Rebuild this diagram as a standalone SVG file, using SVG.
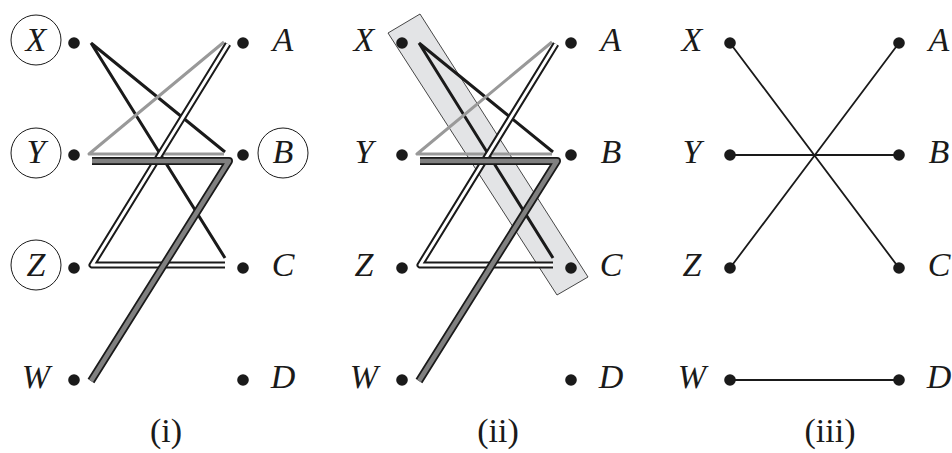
<svg xmlns="http://www.w3.org/2000/svg" width="952" height="453" viewBox="0 0 952 453">
<style>
.lbl{font-style:italic;font-size:34px;text-anchor:middle;fill:#1a1a1a}
.cap{font-size:34px;text-anchor:middle;fill:#1a1a1a}
.dot{fill:#1a1a1a}
.ring{fill:none;stroke:#1a1a1a;stroke-width:1}
.blk{fill:none;stroke:#1a1a1a;stroke-width:3;stroke-linejoin:round}
.gry{fill:none;stroke:#999;stroke-width:3;stroke-linejoin:round}
.dblo{fill:none;stroke:#1a1a1a;stroke-width:7;stroke-linejoin:round}
.dbli{fill:none;stroke:#fff;stroke-width:3;stroke-linejoin:round}
.gdo{fill:none;stroke:#1a1a1a;stroke-width:8;stroke-linejoin:round}
.gdi{fill:none;stroke:#808080;stroke-width:4.5;stroke-linejoin:round}
.thin{fill:none;stroke:#1a1a1a;stroke-width:1.8}
.hl{fill:#e3e4e6;stroke:#1a1a1a;stroke-width:0.8}
</style>

<g font-family="Liberation Serif, DejaVu Serif, serif">
<!-- Panel (i) -->
<g id="panel1">
  <g id="p1-connectors">
    <path class="blk" d="M91,43 L225,152 M91,43 L225,258"/>
    <path class="gry" d="M224,42 L89,154 L224,154"/>
    <path class="dblo" d="M228,44 L92,265 L225,265"/>
    <path class="dbli" d="M228,44 L92,265 L225,265"/>
    <path class="gdo" d="M92,161 L229,161 L91,381"/>
    <path class="gdi" d="M92,161 L229,161 L91,381"/>
  </g>
  <g id="p1-X"><circle class="dot" cx="74" cy="43" r="5.8"/><circle class="ring" cx="36" cy="40" r="25"/><text class="lbl" x="36" y="51">X</text></g>
  <g id="p1-Y"><circle class="dot" cx="74" cy="155" r="5.8"/><circle class="ring" cx="36" cy="153" r="25"/><text class="lbl" x="36" y="163">Y</text></g>
  <g id="p1-Z"><circle class="dot" cx="74" cy="268" r="5.8"/><circle class="ring" cx="36" cy="265" r="25"/><text class="lbl" x="36" y="276">Z</text></g>
  <g id="p1-W"><circle class="dot" cx="74" cy="380" r="5.8"/><text class="lbl" x="36" y="388">W</text></g>
  <g id="p1-A"><circle class="dot" cx="243" cy="43" r="5.8"/><text class="lbl" x="283" y="51">A</text></g>
  <g id="p1-B"><circle class="dot" cx="243" cy="155" r="5.8"/><circle class="ring" cx="283" cy="153" r="25"/><text class="lbl" x="283" y="163">B</text></g>
  <g id="p1-C"><circle class="dot" cx="243" cy="268" r="5.8"/><text class="lbl" x="283" y="276">C</text></g>
  <g id="p1-D"><circle class="dot" cx="243" cy="380" r="5.8"/><text class="lbl" x="283" y="388">D</text></g>
  <text class="cap" x="166" y="442">(i)</text>
</g>

<!-- Panel (ii) -->
<g id="panel2" transform="translate(328,0)">
  <polygon id="p2-highlight" class="hl" points="60,33 92,14 260,277 229,295"/>
  <g id="p2-connectors">
    <path class="blk" d="M91,43 L225,152 M91,43 L225,258"/>
    <path class="gry" d="M224,42 L89,154 L224,154"/>
    <path class="dblo" d="M228,44 L92,265 L225,265"/>
    <path class="dbli" d="M228,44 L92,265 L225,265"/>
    <path class="gdo" d="M92,161 L229,161 L91,381"/>
    <path class="gdi" d="M92,161 L229,161 L91,381"/>
  </g>
  <g id="p2-X"><circle class="dot" cx="74" cy="43" r="5.8"/><text class="lbl" x="36" y="51">X</text></g>
  <g id="p2-Y"><circle class="dot" cx="74" cy="155" r="5.8"/><text class="lbl" x="36" y="163">Y</text></g>
  <g id="p2-Z"><circle class="dot" cx="74" cy="268" r="5.8"/><text class="lbl" x="36" y="276">Z</text></g>
  <g id="p2-W"><circle class="dot" cx="74" cy="380" r="5.8"/><text class="lbl" x="36" y="388">W</text></g>
  <g id="p2-A"><circle class="dot" cx="243" cy="43" r="5.8"/><text class="lbl" x="283" y="51">A</text></g>
  <g id="p2-B"><circle class="dot" cx="243" cy="155" r="5.8"/><text class="lbl" x="283" y="163">B</text></g>
  <g id="p2-C"><circle class="dot" cx="243" cy="268" r="5.8"/><text class="lbl" x="283" y="276">C</text></g>
  <g id="p2-D"><circle class="dot" cx="243" cy="380" r="5.8"/><text class="lbl" x="283" y="388">D</text></g>
  <text class="cap" x="170" y="442">(ii)</text>
</g>

<!-- Panel (iii) -->
<g id="panel3" transform="translate(656,0)">
  <g id="p3-connectors">
    <path class="thin" d="M74,43 L243,268 M74,268 L243,43 M74,155 L243,155 M74,380 L243,380"/>
  </g>
  <g id="p3-X"><circle class="dot" cx="74" cy="43" r="5.8"/><text class="lbl" x="36" y="51">X</text></g>
  <g id="p3-Y"><circle class="dot" cx="74" cy="155" r="5.8"/><text class="lbl" x="36" y="163">Y</text></g>
  <g id="p3-Z"><circle class="dot" cx="74" cy="268" r="5.8"/><text class="lbl" x="36" y="276">Z</text></g>
  <g id="p3-W"><circle class="dot" cx="74" cy="380" r="5.8"/><text class="lbl" x="36" y="388">W</text></g>
  <g id="p3-A"><circle class="dot" cx="243" cy="43" r="5.8"/><text class="lbl" x="283" y="51">A</text></g>
  <g id="p3-B"><circle class="dot" cx="243" cy="155" r="5.8"/><text class="lbl" x="283" y="163">B</text></g>
  <g id="p3-C"><circle class="dot" cx="243" cy="268" r="5.8"/><text class="lbl" x="283" y="276">C</text></g>
  <g id="p3-D"><circle class="dot" cx="243" cy="380" r="5.8"/><text class="lbl" x="283" y="388">D</text></g>
  <text class="cap" x="174" y="442">(iii)</text>
</g>
</g>
</svg>
